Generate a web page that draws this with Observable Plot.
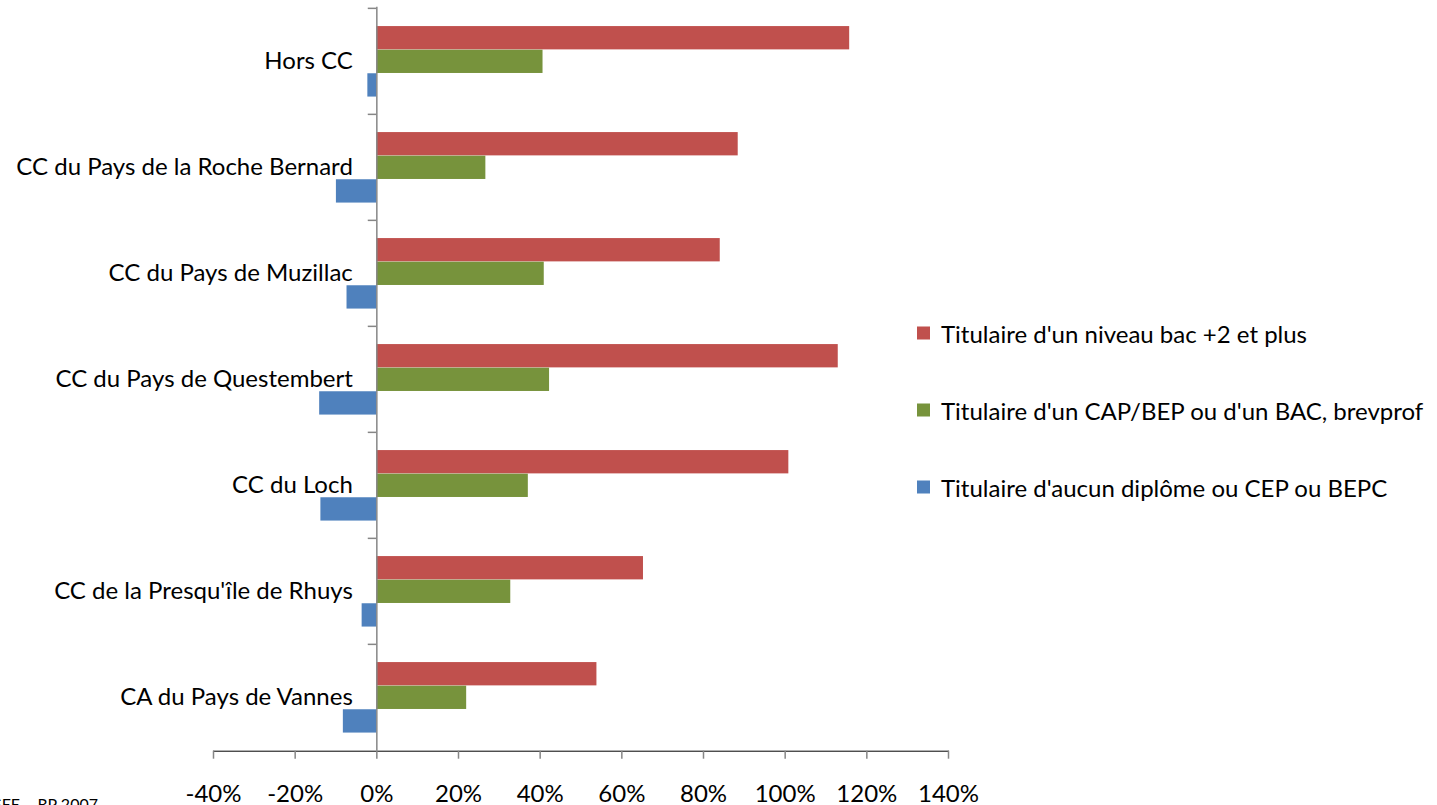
<!DOCTYPE html>
<html>
<head>
<meta charset="utf-8">
<script src="https://cdn.jsdelivr.net/npm/d3@7"></script>
<script src="https://cdn.jsdelivr.net/npm/@observablehq/plot@0.6"></script>
<style>
  html, body { margin: 0; padding: 0; background: #fff; overflow: hidden; }
  #wrap { position: relative; width: 1437px; height: 805px; font-family: Lato, "Open Sans", sans-serif; }
  #legend { position: absolute; left: 917px; top: 0; }
  .item { position: absolute; left: 0; display: flex; align-items: center; white-space: nowrap; font-size: 24px; color: #000; transform: translateY(-50%); }
  .sw { width: 13px; height: 13px; margin-right: 11px; flex: none; }
  #caption { position: absolute; right: 1339px; top: 796px; font-size: 16px; white-space: nowrap; color: #000; line-height: 1; }
</style>
</head>
<body>
<div id="wrap"></div>
<script>
const categories = ["Hors CC", "CC du Pays de la Roche Bernard", "CC du Pays de Muzillac", "CC du Pays de Questembert", "CC du Loch", "CC de la Presqu'île de Rhuys", "CA du Pays de Vannes"];
const series = ["Titulaire d'un niveau bac +2 et plus", "Titulaire d'un CAP/BEP ou d'un BAC, brevprof", "Titulaire d'aucun diplôme ou CEP ou BEPC"];
const bac2 = [115.8, 88.5, 84.1, 113.0, 100.9, 65.3, 53.9];
const capBep = [40.7, 26.7, 41.0, 42.3, 37.1, 32.8, 22.0];
const aucun = [-2.2, -9.9, -7.3, -14.0, -13.7, -3.6, -8.2];
const xTicks = [-40, -20, 0, 20, 40, 60, 80, 100, 120, 140];
const colors = ["#C0504D", "#77933C", "#4F81BD"];
const caption = "Source : INSEE – RP 2007";

const W = 1437, H = 805;
const marginTop = 6.7, marginBottom = 54.3, marginLeft = 213, marginRight = 489;
const bw = (H - marginTop - marginBottom) / categories.length;
const padTop = 0.170 * bw, barH = 0.222 * bw;
const axisGray = "#868686";

const valueSets = [bac2, capBep, aucun];
const barMarks = valueSets.map((vals, k) => {
  const rows = categories.map((c, i) => ({category: c, value: vals[i], series: series[k]}));
  return Plot.barX(rows, {
    x1: 0, x2: "value", y: "category",
    fill: colors[k],
    insetTop: padTop + k * barH,
    insetBottom: bw - padTop - (k + 1) * barH
  });
});

const chart = Plot.plot({
  width: W, height: H,
  marginTop, marginBottom, marginLeft, marginRight,
  style: {fontFamily: "Lato, 'Open Sans', sans-serif", fontSize: "22px", color: "#000", background: "#fff", overflow: "visible"},
  x: {domain: [-40, 140], ticks: xTicks, tickFormat: d => d + "%", tickSize: 8, tickPadding: 26, label: null, line: true},
  y: {domain: categories, padding: 0, axis: null},
  marks: [
    ...barMarks,
    Plot.ruleX([0], {stroke: axisGray, strokeWidth: 1.5}),
    Plot.ruleY(categories, {y: d => d, x1: -2.1, x2: 0, dy: -bw / 2, stroke: axisGray, strokeWidth: 1.5}),
    Plot.text(categories, {x: 0, y: d => d, text: d => d, textAnchor: "end", dx: -24, fontSize: 24, fill: "#000"})
  ]
});

// axis styling
chart.querySelectorAll('g[aria-label^="x-axis"] path, g[aria-label^="x-axis"] line').forEach(el => {
  el.setAttribute("stroke", axisGray);
  el.setAttribute("stroke-width", "1.5");
});
chart.querySelectorAll('g[aria-label^="x-axis"] text').forEach(el => el.setAttribute("font-size", "24px"));

const wrap = document.getElementById("wrap");
wrap.appendChild(chart);

const legend = document.createElement("div");
legend.id = "legend";
const rowY = [333, 410, 487];
series.forEach((s, k) => {
  const item = document.createElement("div");
  item.className = "item";
  item.style.top = rowY[k] + "px";
  const sw = document.createElement("span");
  sw.className = "sw";
  sw.style.background = colors[k];
  const t = document.createElement("span");
  t.textContent = s;
  item.appendChild(sw);
  item.appendChild(t);
  legend.appendChild(item);
});
wrap.appendChild(legend);

const cap = document.createElement("div");
cap.id = "caption";
cap.textContent = caption;
wrap.appendChild(cap);
</script>
</body>
</html>
